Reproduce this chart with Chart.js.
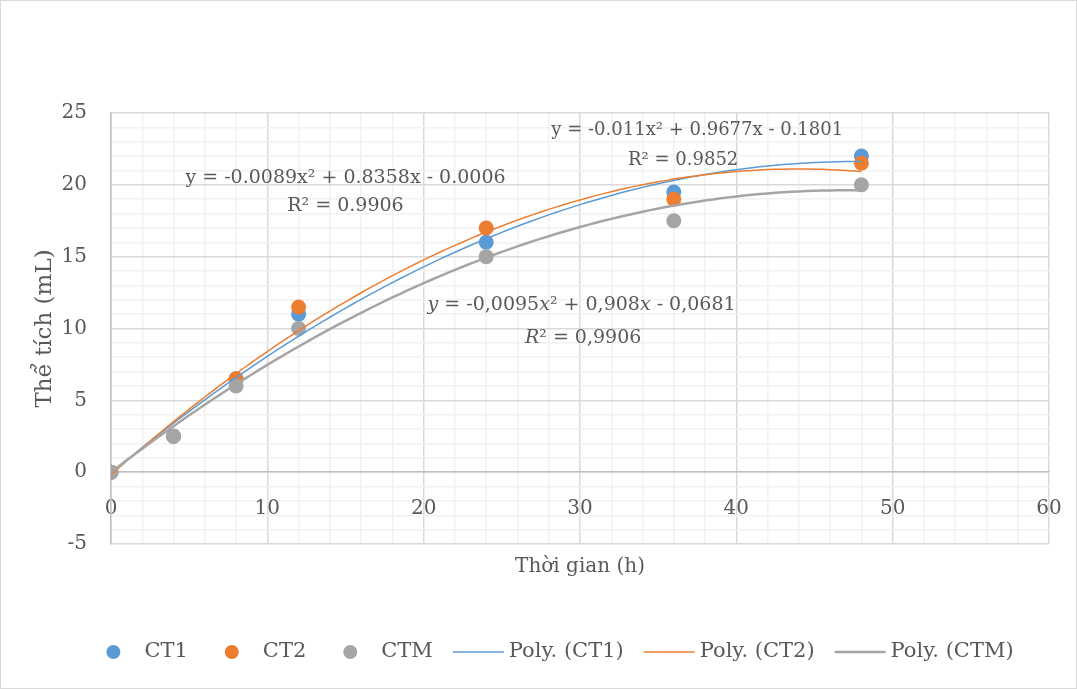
<!DOCTYPE html>
<html>
<head>
<meta charset="utf-8">
<script src="https://cdn.jsdelivr.net/npm/chart.js@4.4.1/dist/chart.umd.min.js"></script>
<style>
  html, body { margin: 0; padding: 0; background: #fff; }
  #wrap { width: 1077px; height: 689px; }
</style>
</head>
<body>
<div id="wrap"><canvas id="chart" width="1077" height="689"></canvas></div>
<script>
"use strict";

// sampling times (h)
const hours = [0, 4, 8, 12, 24, 36, 48];
// volumes (mL)
const ct1 = [0, 2.5, 6.5, 11, 16, 19.5, 22];
const ct2 = [0, 2.5, 6.5, 11.5, 17, 19, 21.5];
const ctm = [0, 2.5, 6, 10, 15, 17.5, 20];

// trendline coefficients [a, b, c] for y = a*x^2 + b*x + c, as printed on the chart
const polyCT1 = [-0.0095, 0.908, -0.0681];
const polyCT2 = [-0.011, 0.9677, -0.1801];
const polyCTM = [-0.0089, 0.8358, -0.0006];

const xTicks = [0, 10, 20, 30, 40, 50, 60];
const yTicks = [-5, 0, 5, 10, 15, 20, 25];

const BLUE = "#5b9bd5";
const ORANGE = "#ed7d31";
const GRAY = "#a5a5a5";
const FONT = "'DejaVu Serif', serif";
const TXT = "#595959";

function pts(ys) {
  return hours.map((h, i) => ({ x: h, y: ys[i] }));
}

function trend(c) {
  const out = [];
  for (let x = 0; x <= hours[hours.length - 1]; x += 0.5) {
    out.push({ x: x, y: c[0] * x * x + c[1] * x + c[2] });
  }
  return out;
}

// equation labels: segments [text, italic], anchored in data units
const eqLabels = [
  { x: 15, y: 20.5, size: 19, parts: [["y = -0.0089x² + 0.8358x - 0.0006", false]] },
  { x: 15, y: 18.5, size: 19, parts: [["R² = 0.9906", false]] },
  { x: 37.5, y: 23.8, size: 18, parts: [["y = -0.011x² + 0.9677x - 0.1801", false]] },
  { x: 36.6, y: 21.7, size: 18, parts: [["R² = 0.9852", false]] },
  { x: 30.1, y: 11.6, size: 19, parts: [["y", true], [" = -0,0095", false], ["x", true], ["² + 0,908", false], ["x", true], [" - 0,0681", false]] },
  { x: 30.2, y: 9.3, size: 19, parts: [["R", true], ["² = 0,9906", false]] },
];

const decor = {
  id: "decor",
  beforeDraw(chart) {
    const c = chart.ctx;
    c.save();
    c.fillStyle = "#fff";
    c.fillRect(0, 0, chart.width, chart.height);
    c.strokeStyle = "#d9d9d9";
    c.lineWidth = 1;
    c.strokeRect(0.5, 0.5, chart.width - 1, chart.height - 1);
    c.restore();
  },
  afterDraw(chart) {
    const c = chart.ctx;
    const sx = chart.scales.x, sy = chart.scales.y;
    const area = chart.chartArea;
    c.save();
    c.fillStyle = TXT;
    c.textBaseline = "middle";

    // equations
    eqLabels.forEach((lab) => {
      const f = (it) => (it ? "italic " : "") + lab.size + "px " + FONT;
      let w = 0;
      lab.parts.forEach((p) => {
        c.font = f(p[1]);
        w += c.measureText(p[0]).width;
      });
      let px = sx.getPixelForValue(lab.x) - w / 2;
      const py = sy.getPixelForValue(lab.y);
      c.textAlign = "left";
      lab.parts.forEach((p) => {
        c.font = f(p[1]);
        c.fillText(p[0], px, py);
        px += c.measureText(p[0]).width;
      });
    });

    // x axis title
    c.font = "20px " + FONT;
    c.textAlign = "center";
    c.fillText("Thời gian (h)", (area.left + area.right) / 2, 567);

    // legend
    c.font = "21px " + FONT;
    const items = chart.data.datasets.map((ds) => ({
      text: ds.label,
      line: ds.showLine === true,
      color: ds.borderColor,
      lw: ds.borderWidth,
    }));
    const lead = (it) => (it.line ? 56 : 38);
    const before = (it) => (it.line ? 20 : 37);
    let total = 0;
    items.forEach((it, i) => {
      if (i > 0) total += before(it);
      total += lead(it) + c.measureText(it.text).width;
    });
    let lx = 560 - total / 2;
    const ly = 652;
    items.forEach((it, i) => {
      if (i > 0) lx += before(it);
      if (it.line) {
        c.strokeStyle = it.color;
        c.lineWidth = it.lw;
        c.beginPath();
        c.moveTo(lx, ly);
        c.lineTo(lx + 51, ly);
        c.stroke();
      } else {
        c.fillStyle = it.color;
        c.beginPath();
        c.arc(lx + 7, ly, 7, 0, Math.PI * 2);
        c.fill();
      }
      lx += lead(it);
      c.fillStyle = TXT;
      c.textAlign = "left";
      c.fillText(it.text, lx, ly);
      lx += c.measureText(it.text).width;
    });
    c.restore();
  },
};

function scatterSet(label, ys, color, order) {
  return {
    label: label,
    data: pts(ys),
    backgroundColor: color,
    borderColor: color,
    borderWidth: 0,
    pointRadius: 7.5,
    showLine: false,
    order: order,
  };
}

function trendSet(label, coef, color, width, order) {
  return {
    label: label,
    data: trend(coef),
    borderColor: color,
    borderWidth: width,
    pointRadius: 0,
    showLine: true,
    tension: 0,
    fill: false,
    order: order,
  };
}

const ctx = document.getElementById("chart").getContext("2d");

new Chart(ctx, {
  type: "scatter",
  data: {
    datasets: [
      scatterSet("CT1", ct1, BLUE, 5),
      scatterSet("CT2", ct2, ORANGE, 4),
      scatterSet("CTM", ctm, GRAY, 3),
      trendSet("Poly. (CT1)", polyCT1, BLUE, 1.5, 2),
      trendSet("Poly. (CT2)", polyCT2, ORANGE, 1.5, 1),
      trendSet("Poly. (CTM)", polyCTM, GRAY, 2.5, 0),
    ],
  },
  options: {
    responsive: false,
    animation: false,
    layout: { padding: { top: 113, right: 28, bottom: 145, left: 0 } },
    plugins: {
      legend: { display: false },
      tooltip: { enabled: false },
    },
    scales: {
      x: {
        type: "linear",
        position: { y: 0 },
        min: xTicks[0],
        max: xTicks[xTicks.length - 1],
        afterFit: (s) => { s.paddingLeft = 0; s.paddingRight = 0; },
        ticks: {
          stepSize: 2,
          autoSkip: false,
          maxRotation: 0,
          padding: 25,
          color: TXT,
          font: { family: FONT, size: 20 },
          callback: (v) => (xTicks.includes(v) ? v : ""),
        },
        grid: {
          drawTicks: false,
          color: (c) => (c.tick && c.tick.value % 10 === 0 ? "#d9d9d9" : "#f2f2f2"),
          lineWidth: 1.5,
        },
        border: { display: true, color: "#bfbfbf", width: 1.5 },
      },
      y: {
        type: "linear",
        min: yTicks[0],
        max: yTicks[yTicks.length - 1],
        afterFit: (s) => { s.width = 111; },
        ticks: {
          stepSize: 1,
          autoSkip: false,
          padding: 24,
          color: TXT,
          font: { family: FONT, size: 20 },
          callback: (v) => (yTicks.includes(v) ? v : ""),
        },
        grid: {
          drawTicks: false,
          color: (c) => (c.tick && c.tick.value % 5 === 0 ? "#d9d9d9" : "#f2f2f2"),
          lineWidth: 1.5,
        },
        border: { display: true, color: "#bfbfbf", width: 1.5 },
        title: {
          display: true,
          text: "Thể tích (mL)",
          color: TXT,
          font: { family: FONT, size: 23 },
          padding: { top: 31, bottom: 0 },
        },
      },
    },
  },
  plugins: [decor],
});
</script>
</body>
</html>
